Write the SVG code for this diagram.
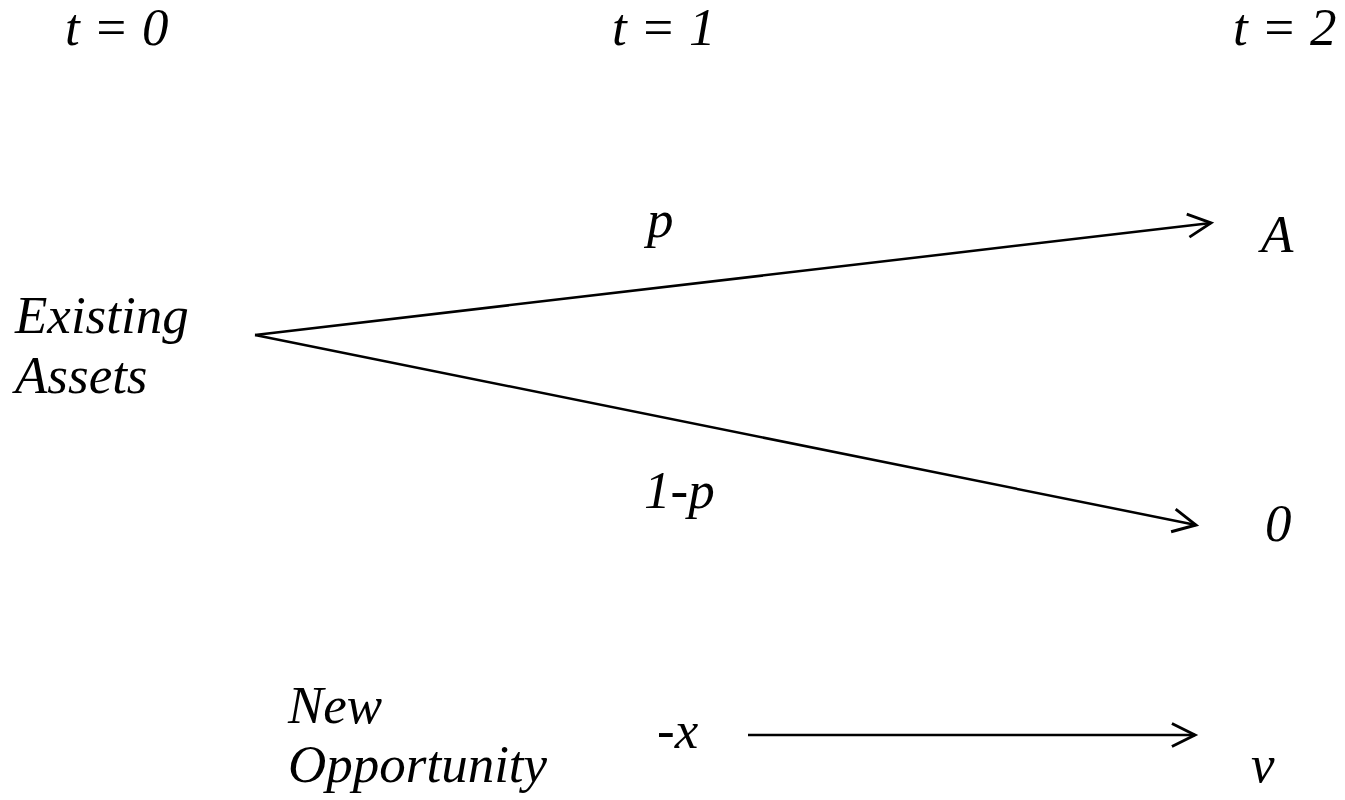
<svg xmlns="http://www.w3.org/2000/svg" width="1345" height="800" viewBox="0 0 1345 800">
<style>
text{font-family:"Liberation Serif","Times New Roman",serif;font-style:italic;font-size:53px;fill:#000}
.c{stroke:#000;stroke-width:2.5;fill:none}
</style>
<defs>
<marker id="ah" markerUnits="userSpaceOnUse" markerWidth="30" markerHeight="30" viewBox="-22 -12 26 24" refX="0" refY="0" orient="auto">
<path d="M-20,-10 L0,0 L-20,10" fill="none" stroke="#000" stroke-width="2.5"/>
</marker>
</defs>
<rect width="1345" height="800" fill="#fff"/>
<g id="times">
<text x="65" y="45">t = 0</text>
<text x="612" y="45">t = 1</text>
<text x="1233" y="45">t = 2</text>
</g>
<g id="existing"><text x="15" y="333">Existing</text><text x="15" y="393">Assets</text></g>
<g id="A"><text x="1261" y="252">A</text></g>
<g id="zero"><text x="1265" y="541">0</text></g>
<g id="new"><text x="288" y="723">New</text><text x="288" y="782">Opportunity</text></g>
<g id="v"><text x="1251" y="782">v</text></g>
<g id="connectors">
<line class="c" x1="255" y1="335" x2="1211" y2="223" marker-end="url(#ah)"/>
<line class="c" x1="255" y1="335" x2="1196" y2="525" marker-end="url(#ah)"/>
<line class="c" x1="748" y1="735" x2="1195" y2="735" marker-end="url(#ah)"/>
<text x="647" y="237">p</text>
<text x="644" y="508">1-p</text>
<text x="657" y="748">-x</text>
</g>
</svg>
